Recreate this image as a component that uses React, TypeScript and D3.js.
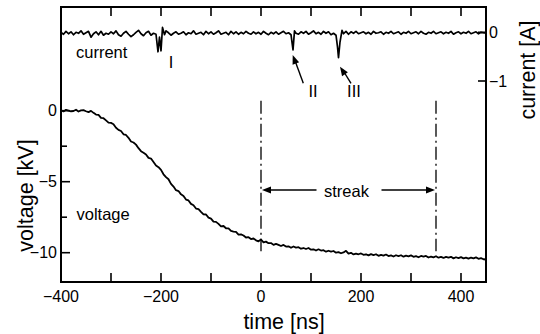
import React from "react";
import * as d3 from "d3";

// ---- data ----
const timeTicks = [-400, -300, -200, -100, 0, 100, 200, 300, 400];
const timeLabels = [-400, -200, 0, 200, 400];
const voltTicksMajor = [0, -5, -10];
const voltTicksMinor = [-2.5, -7.5];
const currentTicks = [0, -1];

// voltage [kV] vs time [ns]
const voltage: [number, number][] = [
  [-400, 0.03], [-395, -0.05], [-390, 0.06], [-385, 0.01], [-380, -0.04], [-375, -0.02], [-370, 0.07], [-365, -0.06], [-360, 0.02], [-355, 0.04],
  [-350, -0.04], [-345, -0.1], [-340, -0.01], [-335, -0.15], [-330, -0.27], [-325, -0.29], [-320, -0.5], [-315, -0.53], [-310, -0.68], [-305, -0.84],
  [-300, -0.86], [-295, -0.95], [-290, -1.2], [-285, -1.35], [-280, -1.43], [-275, -1.66], [-270, -1.71], [-265, -1.91], [-260, -2.17], [-255, -2.24],
  [-250, -2.39], [-245, -2.64], [-240, -2.85], [-235, -2.96], [-230, -3.08], [-225, -3.32], [-220, -3.37], [-215, -3.61], [-210, -3.86], [-205, -3.98],
  [-200, -4.17], [-195, -4.48], [-190, -4.68], [-185, -4.83], [-180, -5.15], [-175, -5.34], [-170, -5.6], [-165, -5.66], [-160, -5.89], [-155, -6.01],
  [-150, -6.26], [-145, -6.32], [-140, -6.56], [-135, -6.66], [-130, -6.89], [-125, -6.93], [-120, -7.12], [-115, -7.3], [-110, -7.31], [-105, -7.53],
  [-100, -7.6], [-95, -7.81], [-90, -7.83], [-85, -7.97], [-80, -8.15], [-75, -8.12], [-70, -8.28], [-65, -8.28], [-60, -8.46], [-55, -8.51],
  [-50, -8.53], [-45, -8.72], [-40, -8.71], [-35, -8.79], [-30, -8.93], [-25, -8.91], [-20, -9.04], [-15, -9.0], [-10, -9.13], [-5, -9.2],
  [0, -9.07], [5, -9.27], [10, -9.22], [15, -9.33], [20, -9.32], [25, -9.45], [30, -9.38], [35, -9.45], [40, -9.53], [45, -9.45],
  [50, -9.57], [55, -9.55], [60, -9.65], [65, -9.56], [70, -9.64], [75, -9.61], [80, -9.72], [85, -9.67], [90, -9.74], [95, -9.67],
  [100, -9.79], [105, -9.76], [110, -9.85], [115, -9.76], [120, -9.85], [125, -9.82], [130, -9.93], [135, -9.86], [140, -9.93], [145, -9.88],
  [150, -10.0], [155, -9.96], [160, -10.04], [165, -9.98], [170, -9.87], [175, -10.07], [180, -10.01], [185, -10.12], [190, -10.06], [195, -10.11],
  [200, -10.05], [205, -10.15], [210, -10.11], [215, -10.19], [220, -10.1], [225, -10.17], [230, -10.11], [235, -10.22], [240, -10.15], [245, -10.21],
  [250, -10.13], [255, -10.24], [260, -10.19], [265, -10.27], [270, -10.18], [275, -10.24], [280, -10.18], [285, -10.28], [290, -10.21], [295, -10.26],
  [300, -10.19], [305, -10.29], [310, -10.24], [315, -10.32], [320, -10.23], [325, -10.28], [330, -10.23], [335, -10.34], [340, -10.27], [345, -10.33],
  [350, -10.25], [355, -10.35], [360, -10.3], [365, -10.37], [370, -10.29], [375, -10.35], [380, -10.29], [385, -10.4], [390, -10.32], [395, -10.38],
  [400, -10.31], [405, -10.4], [410, -10.35], [415, -10.42], [420, -10.34], [425, -10.4], [430, -10.33], [435, -10.43], [440, -10.38], [445, -10.46],
  [450, -10.48],
];

// current [A] vs time [ns]
const current: [number, number][] = [
  [-400, 0.0], [-395, -0.04], [-390, 0.02], [-385, -0.03], [-380, 0.01], [-375, -0.05], [-370, 0.0], [-365, -0.02], [-360, 0.03], [-355, -0.04],
  [-350, -0.01], [-345, 0.02], [-340, -0.1], [-335, -0.03], [-330, 0.01], [-325, -0.05], [-320, 0.02], [-315, -0.06], [-310, -0.02], [-305, -0.04],
  [-300, 0.01], [-295, -0.03], [-290, 0.03], [-285, -0.05], [-280, -0.08], [-275, -0.02], [-270, 0.02], [-265, -0.04], [-260, -0.09], [-255, -0.05],
  [-250, 0.0], [-245, 0.04], [-240, -0.03], [-235, -0.07], [-230, -0.01], [-225, 0.02], [-220, -0.06], [-215, -0.02], [-210, -0.04], [-206, -0.4],
  [-203, -0.1], [-200, -0.38], [-197, 0.1], [-193, -0.05], [-190, 0.03], [-185, -0.01], [-180, -0.06], [-175, -0.02], [-170, 0.01], [-165, -0.04],
  [-160, -0.02], [-155, 0.01], [-150, -0.05], [-145, -0.01], [-140, -0.03], [-135, 0.03], [-130, -0.04], [-125, -0.02], [-120, 0.0], [-115, -0.05],
  [-110, 0.02], [-105, -0.03], [-100, 0.01], [-95, -0.04], [-90, -0.01], [-85, 0.03], [-80, -0.04], [-75, -0.02], [-70, 0.0], [-65, -0.05],
  [-60, 0.02], [-55, -0.03], [-50, 0.01], [-45, -0.04], [-40, 0.0], [-35, -0.03], [-30, 0.02], [-25, -0.02], [-20, -0.04], [-15, 0.01],
  [-10, -0.03], [-5, 0.0], [0, -0.04], [5, 0.02], [10, -0.02], [15, -0.05], [20, 0.0], [25, -0.03], [30, 0.01], [35, -0.04],
  [40, -0.01], [45, 0.02], [50, -0.03], [55, -0.01], [60, -0.05], [64, -0.36], [67, 0.03], [70, -0.02], [75, -0.04], [80, 0.01],
  [85, -0.02], [90, 0.02], [95, -0.04], [100, -0.01], [105, 0.03], [110, -0.03], [115, 0.0], [120, -0.04], [125, 0.02], [130, -0.02],
  [135, 0.01], [140, -0.05], [145, -0.02], [150, -0.06], [153, -0.3], [155, -0.52], [158, -0.2], [162, 0.04], [165, -0.03], [170, 0.02],
  [175, -0.04], [180, 0.01], [185, -0.02], [190, 0.02], [195, -0.03], [200, -0.01], [205, 0.01], [210, -0.03], [215, 0.0], [220, -0.04],
  [225, 0.02], [230, -0.02], [235, -0.01], [240, 0.01], [245, -0.04], [250, 0.0], [255, -0.02], [260, 0.02], [265, -0.03], [270, -0.01],
  [275, 0.01], [280, -0.04], [285, 0.0], [290, -0.02], [295, 0.02], [300, -0.03], [305, -0.01], [310, 0.01], [315, -0.03], [320, 0.02],
  [325, -0.02], [330, -0.04], [335, 0.0], [340, -0.02], [345, 0.02], [350, -0.03], [355, -0.01], [360, 0.01], [365, -0.03], [370, 0.0],
  [375, -0.02], [380, 0.02], [385, -0.04], [390, -0.01], [395, 0.01], [400, -0.03], [405, 0.0], [410, -0.02], [415, 0.02], [420, -0.03],
  [425, -0.01], [430, 0.01], [435, -0.03], [440, 0.0], [445, -0.01], [450, -0.01],
];

const streakStart = 0;
const streakEnd = 350;

const FONT = "'Liberation Sans', Arial, Helvetica, sans-serif";
const fmt = (v: number) => (v < 0 ? "\u2212" + Math.abs(v) : String(v));

export default function App() {
  const W = 540, H = 334;
  const L = 61, R = 486, T = 7, B = 282;
  const x = d3.scaleLinear().domain([-400, 450]).range([L, R]);
  const yV = d3.scaleLinear().domain([0, -10]).range([110.7, 252.7]);
  const yI = d3.scaleLinear().domain([0, -1]).range([32.3, 81]);

  const lineV = d3.line<[number, number]>().x(d => x(d[0])).y(d => yV(d[1]));
  const lineI = d3.line<[number, number]>().x(d => x(d[0])).y(d => yI(d[1]));

  const head = (tx: number, ty: number, fx: number, fy: number, len = 9, hw = 3.5) => {
    const a = Math.atan2(ty - fy, tx - fx);
    const bx = tx - len * Math.cos(a), by = ty - len * Math.sin(a);
    const px = -Math.sin(a) * hw, py = Math.cos(a) * hw;
    return `M${tx},${ty}L${bx + px},${by + py}L${bx - px},${by - py}Z`;
  };

  const yArrow = 190;
  const x0 = x(streakStart), x1 = x(streakEnd);
  const xm = (x0 + x1) / 2;

  return (
    <svg width={W} height={H} style={{ position: "absolute", left: 0, top: 0, background: "#fff" }} fontFamily={FONT}>
      <rect x={0} y={0} width={W} height={H} fill="#fff" />
      {/* traces */}
      <path d={lineI(current) || ""} fill="none" stroke="#000" strokeWidth={1.7} strokeLinejoin="round" />
      <path d={lineV(voltage) || ""} fill="none" stroke="#000" strokeWidth={1.8} strokeLinejoin="round" />

      {/* streak markers */}
      {[streakStart, streakEnd].map(t => (
        <line key={t} x1={x(t)} x2={x(t)} y1={yV(0.7)} y2={yV(-9.9)} stroke="#000" strokeWidth={1.3} strokeDasharray="13,4,2,4" />
      ))}
      <line x1={x0 + 6} x2={xm - 32} y1={yArrow} y2={yArrow} stroke="#000" strokeWidth={1.3} />
      <line x1={xm + 33} x2={x1 - 6} y1={yArrow} y2={yArrow} stroke="#000" strokeWidth={1.3} />
      <path d={head(x0 + 1, yArrow, x0 + 20, yArrow)} fill="#000" />
      <path d={head(x1 - 1, yArrow, x1 - 20, yArrow)} fill="#000" />
      <text x={xm - 2} y={196.5} fontSize={16.5} textAnchor="middle">streak</text>

      {/* annotations */}
      <text x={76} y={57.5} fontSize={16.5}>current</text>
      <text x={76.5} y={220} fontSize={16.5}>voltage</text>
      <text x={171} y={68} fontSize={16.5} textAnchor="middle">I</text>
      <text x={313} y={97} fontSize={16.5} textAnchor="middle">II</text>
      <text x={354} y={97} fontSize={16.5} textAnchor="middle">III</text>
      <line x1={303.3} y1={83.3} x2={295.5} y2={62} stroke="#000" strokeWidth={1.4} />
      <path d={head(292.7, 55, 303.3, 83.3)} fill="#000" />
      <line x1={351} y1={83.3} x2={344} y2={72} stroke="#000" strokeWidth={1.4} />
      <path d={head(340, 66.7, 351, 83.3)} fill="#000" />

      {/* frame */}
      <rect x={L} y={T} width={R - L} height={B - T} fill="none" stroke="#000" strokeWidth={2} />

      {/* bottom/top ticks */}
      {timeTicks.map(t => (
        <g key={"t" + t}>
          <line x1={x(t)} x2={x(t)} y1={B} y2={B - 9} stroke="#000" strokeWidth={1.6} />
          <line x1={x(t)} x2={x(t)} y1={T} y2={T + 9} stroke="#000" strokeWidth={1.6} />
        </g>
      ))}
      {timeLabels.map(t => (
        <text key={"tl" + t} x={x(t)} y={301.5} fontSize={16} textAnchor="middle">{fmt(t)}</text>
      ))}

      {/* left ticks */}
      {voltTicksMajor.map(v => (
        <g key={"v" + v}>
          <line x1={L} x2={L + 9} y1={yV(v)} y2={yV(v)} stroke="#000" strokeWidth={1.6} />
          <text x={57} y={yV(v)} dy="0.36em" fontSize={16} textAnchor="end">{fmt(v)}</text>
        </g>
      ))}
      {voltTicksMinor.map(v => (
        <line key={"vm" + v} x1={L} x2={L + 6} y1={yV(v)} y2={yV(v)} stroke="#000" strokeWidth={1.6} />
      ))}

      {/* right ticks */}
      {currentTicks.map(c => (
        <g key={"c" + c}>
          <line x1={R - 8} x2={R} y1={yI(c)} y2={yI(c)} stroke="#000" strokeWidth={1.6} />
          <text x={489} y={yI(c)} dy="0.36em" fontSize={16} textAnchor="start">{fmt(c)}</text>
        </g>
      ))}

      {/* axis titles */}
      <text x={284} y={329} fontSize={21.5} textAnchor="middle">time [ns]</text>
      <text transform="translate(33,195.5) rotate(-90)" fontSize={21.5} textAnchor="middle">voltage [kV]</text>
      <text transform="translate(535,70) rotate(-90)" fontSize={21.5} textAnchor="middle">current [A]</text>
    </svg>
  );
}
